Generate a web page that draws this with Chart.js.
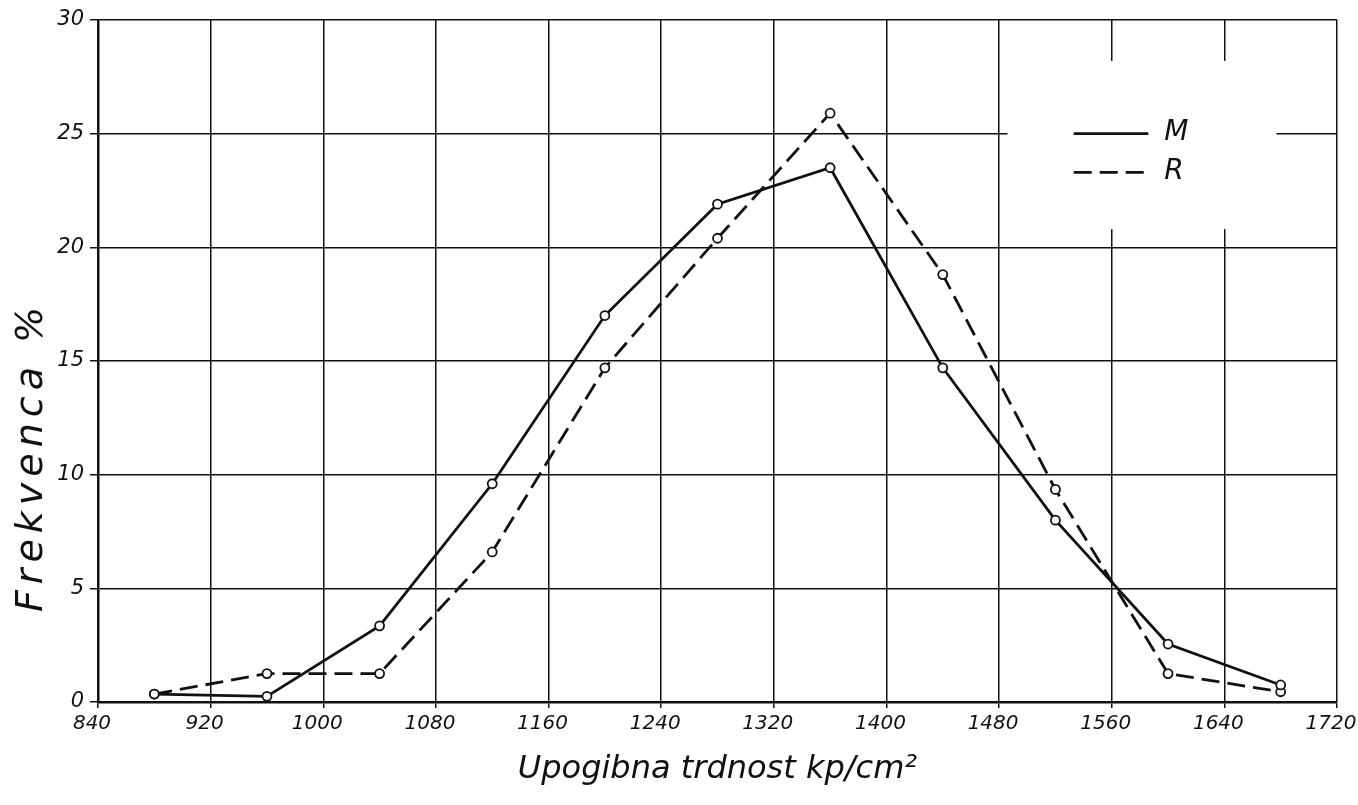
<!DOCTYPE html>
<html>
<head>
<meta charset="utf-8">
<title>Frekvenca - upogibna trdnost</title>
<script src="https://cdn.jsdelivr.net/npm/chart.js@4/dist/chart.umd.min.js"></script>
<style>
  html, body { margin: 0; padding: 0; background: #fff; }
  #wrap { width: 1358px; height: 805px; }
</style>
</head>
<body>
<div id="wrap"><canvas id="myChart" width="1358" height="805"></canvas></div>
<script>
// razredne sredine (kp/cm2) in frekvence v %
let sredine = [880, 960, 1040, 1120, 1200, 1280, 1360, 1440, 1520, 1600, 1680]
let frekM = [0.35, 0.25, 3.35, 9.6, 17.0, 21.9, 23.5, 14.7, 8.0, 2.55, 0.75]
let frekR = [0.35, 1.25, 1.25, 6.6, 14.7, 20.4, 25.9, 18.8, 9.35, 1.25, 0.45]
let oznake = ['M', 'R']
let xMin = 840, xMax = 1720, xKorak = 80
let yMin = 0, yMax = 30, yKorak = 5
let naslovX = 'Upogibna trdnost kp/cm²'
let naslovY = 'Frekvenca %'

let pisava = 'DejaVu Sans'
let crna = '#111'
let crtkano = [18, 8]

function tocke(vrednosti) {
    return sredine.map(function (x, i) { return { x: x, y: vrednosti[i] } })
}

// legenda na belem polju + naslov y osi
let legendaPlugin = {
    id: 'legenda',
    beforeDatasetsDraw: function (chart) {
        let ctx = chart.ctx
        let sx = chart.scales.x, sy = chart.scales.y
        let ds = chart.data.datasets
        ctx.save()
        ctx.fillStyle = '#fff'
        let x0 = sx.getPixelForValue(1486), x1 = sx.getPixelForValue(1677)
        let y0 = sy.getPixelForValue(28.2), y1 = sy.getPixelForValue(20.8)
        ctx.fillRect(x0, y0, x1 - x0, y1 - y0)
        let lx0 = sx.getPixelForValue(1533), lx1 = sx.getPixelForValue(1586)
        let ly = [sy.getPixelForValue(25), sy.getPixelForValue(23.3)]
        ds.forEach(function (d, i) {
            ctx.strokeStyle = crna
            ctx.lineWidth = 2.8
            ctx.setLineDash(d.borderDash || [])
            ctx.beginPath()
            ctx.moveTo(lx0, ly[i])
            ctx.lineTo(lx1, ly[i])
            ctx.stroke()
            ctx.setLineDash([])
            ctx.fillStyle = crna
            ctx.font = 'italic 28px "' + pisava + '"'
            ctx.textBaseline = 'middle'
            ctx.textAlign = 'left'
            ctx.fillText(d.label, lx1 + 16, ly[i] - 1)
        })
        ctx.restore()
    },
    afterDraw: function (chart) {
        let ctx = chart.ctx
        let sy = chart.scales.y
        ctx.save()
        ctx.translate(32, sy.getPixelForValue(10.8))
        ctx.rotate(-Math.PI / 2)
        ctx.fillStyle = crna
        ctx.font = 'italic 38px "' + pisava + '"'
        ctx.letterSpacing = '6px'
        ctx.textAlign = 'center'
        ctx.textBaseline = 'middle'
        ctx.fillText(naslovY, 0, 0)
        ctx.restore()
    }
}

let grafikon = document.getElementById('myChart').getContext('2d')

let myChart = new Chart(grafikon, {
    type: 'line',
    data: {
        datasets: [
            {
                label: oznake[0],
                data: tocke(frekM),
                borderColor: crna,
                borderWidth: 2.8,
                pointRadius: 4.5,
                pointBackgroundColor: '#fff',
                pointBorderColor: crna,
                pointBorderWidth: 1.8,
                tension: 0,
            },
            {
                label: oznake[1],
                data: tocke(frekR),
                borderColor: crna,
                borderWidth: 2.8,
                borderDash: crtkano,
                pointRadius: 4.5,
                pointBackgroundColor: '#fff',
                pointBorderColor: crna,
                pointBorderWidth: 1.8,
                tension: 0,
            },
        ],
    },
    options: {
        responsive: false,
        animation: false,
        layout: {
            padding: { top: 20, right: 21, bottom: 0, left: 0 },
        },
        plugins: {
            legend: { display: false },
            tooltip: { enabled: false },
        },
        scales: {
            x: {
                type: 'linear',
                min: xMin,
                max: xMax,
                afterFit: function (s) {
                    s.height = 103
                    s.paddingLeft = 0
                    s.paddingRight = 0
                },
                ticks: {
                    stepSize: xKorak,
                    color: crna,
                    padding: 4,
                    labelOffset: -6,
                    maxRotation: 0,
                    callback: function (v) { return String(v) },
                    font: { family: pisava, size: 20, style: 'italic' },
                },
                grid: { color: crna, lineWidth: 1.5, tickLength: 6 },
                border: { color: crna, width: 2.5 },
                title: {
                    display: true,
                    text: naslovX,
                    color: crna,
                    padding: { top: 0, bottom: 16 },
                    font: { family: pisava, size: 32, style: 'italic' },
                },
            },
            y: {
                min: yMin,
                max: yMax,
                afterFit: function (s) { s.width = 98 },
                ticks: {
                    stepSize: yKorak,
                    color: crna,
                    padding: 6,
                    callback: function (v) { return String(v) },
                    font: { family: pisava, size: 21, style: 'italic' },
                },
                grid: { color: crna, lineWidth: 1.5, tickLength: 8 },
                border: { color: crna, width: 2.5 },
            },
        },
    },
    plugins: [legendaPlugin],
})
</script>
</body>
</html>
